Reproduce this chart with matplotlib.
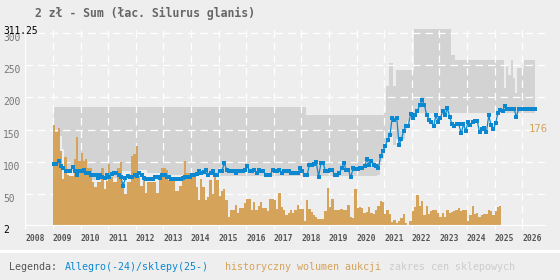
import matplotlib
matplotlib.use("Agg")
import matplotlib.pyplot as plt
from matplotlib.patches import Rectangle
from matplotlib.transforms import blended_transform_factory
import numpy as np

plt.rcParams["font.family"] = ["DejaVu Sans Mono", "DejaVu Sans"]

TITLE = "2 zł - Sum (łac. Silurus glanis)"
START_YEAR = 2009
YEARS = list(range(2008, 2027))
Y_TICKS = [2, 50, 100, 150, 200, 250, 300]
Y_MAX = 311.25
LAST_LABEL = "176"

# historyczny wolumen aukcji, monthly from 2009-01 (scaled to the price axis)
volume = [
    157, 147, 152, 117, 74, 108, 80, 78, 78, 104, 139, 101,
    114, 101, 105, 90, 91, 68, 61, 69, 69, 90, 58, 70,
    97, 77, 69, 69, 90, 100, 69, 50, 69, 69, 109, 112,
    124, 78, 63, 77, 52, 69, 69, 69, 69, 52, 80, 90,
    90, 88, 72, 72, 72, 54, 54, 63, 72, 101, 83, 83,
    83, 83, 61, 41, 74, 61, 41, 46, 72, 50, 76, 72,
    47, 54, 58, 40, 15, 26, 26, 33, 20, 29, 29, 36,
    43, 43, 26, 38, 25, 32, 37, 29, 29, 24, 43, 43,
    40, 27, 52, 30, 25, 17, 20, 25, 21, 26, 33, 27,
    27, 8, 40, 27, 22, 17, 15, 11, 11, 11, 24, 59,
    30, 42, 26, 25, 25, 27, 25, 26, 33, 14, 13, 58,
    29, 30, 29, 20, 22, 30, 20, 19, 25, 32, 39, 38,
    19, 26, 19, 6, 10, 5, 8, 13, 19, 5, 1, 8,
    24, 30, 48, 31, 39, 18, 31, 19, 24, 25, 26, 21,
    15, 20, 15, 25, 21, 22, 24, 25, 28, 24, 25, 25,
    8, 18, 32, 19, 20, 15, 18, 19, 19, 25, 23, 18,
    24, 30, 31,
]

# Allegro price, monthly from 2009-01
allegro = [
    96, 96, 101, 93, 90, 86, 86, 86, 92, 86, 80, 85,
    86, 88, 82, 83, 80, 80, 79, 75, 80, 77, 75, 80,
    77, 81, 82, 82, 80, 77, 62, 75, 78, 77, 76, 79,
    78, 82, 80, 75, 73, 74, 73, 74, 76, 76, 75, 80,
    80, 76, 76, 73, 73, 73, 73, 74, 75, 77, 77, 77,
    80, 80, 81, 85, 83, 84, 87, 80, 82, 85, 80, 80,
    86, 86, 98, 88, 85, 85, 86, 83, 86, 86, 85, 87,
    93, 86, 86, 87, 83, 87, 86, 86, 80, 80, 80, 87,
    85, 85, 87, 83, 85, 85, 85, 83, 83, 83, 83, 90,
    85, 80, 79, 95, 95, 97, 99, 77, 98, 98, 85, 85,
    87, 87, 80, 80, 82, 90, 98, 87, 87, 76, 90, 89,
    89, 90, 90, 93, 104, 95, 102, 95, 93, 90, 109, 117,
    125, 134, 141, 168, 165, 168, 126, 135, 148, 156, 156, 174,
    168, 173, 179, 188, 196, 188, 173, 165, 162, 155, 172, 162,
    168, 179, 173, 183, 170, 158, 156, 158, 158, 144, 158, 148,
    162, 157, 162, 163, 163, 146, 151, 152, 146, 172, 157, 151,
    160, 176, 180, 179, 187, 182, 182, 182, 182, 170, 182, 182,
    182, 182, 182, 182, 182, 182,
]

# zakres cen sklepowych (shop price range), monthly from 2009-01
shop_high = ([185] * 110 + [173] * 34 + [178, 217, 253, 253, 217] + [243] * 8
             + [306] * 16 + [266] * 2 + [258] * 21
             + [215, 250, 235, 258, 230, 206] + [245] * 3 + [258] * 5)
shop_low = ([140] * 4 + [120, 100] + [85] * 6 + [80] * 5 + [72] * 7 + [75] * 4
            + [85] * 8 + [88] * 5 + [82] * 7 + [79] * 23 + [78] * 70
            + [80, 95, 105, 118, 130, 145, 140, 126] + [136] * 4 + [150, 164]
            + [176] * 55)

BLUE = "#0b88d0"
ORANGE = "#d5a35a"
GREY = "#d3d3d3"
BG = "#eeeeee"

t_bar = START_YEAR + np.arange(len(volume)) / 12
t_line = START_YEAR + np.arange(len(allegro)) / 12 + 1 / 24

fig = plt.figure(figsize=(5.6, 2.8), dpi=100, facecolor=BG)
ax = fig.add_axes([25.4 / 560, 55 / 280, 519.6 / 560, 199.4 / 280])
ax.set_facecolor(BG)

ax.fill_between(t_line, shop_low, shop_high, step="mid", color=GREY, lw=0, zorder=0.3)
ax.bar(t_bar, volume, width=1 / 12, align="edge", color=ORANGE, lw=0, zorder=2)
ax.plot(t_line, allegro, color=BLUE, lw=0.9, marker="s", ms=2.4, mew=0, zorder=3)

ax.set_xlim(2008, 2026.83)
ax.set_ylim(2, Y_MAX)
ax.set_axisbelow(True)
ax.grid(color="white", linestyle=(0, (6, 4)), lw=0.9)

ax.set_xticks(YEARS)
ax.set_xticklabels([str(y) for y in YEARS], ha="left", fontsize=5.8,
                   fontweight="bold", color="#555555")
ax.tick_params(axis="x", length=3, color="white", width=0.8, pad=3.5)
ax.set_yticks(Y_TICKS)
ax.set_yticklabels([])
ax.tick_params(axis="y", length=0)

for s in ["top", "right"]:
    ax.spines[s].set_visible(False)
for s in ["left", "bottom"]:
    ax.spines[s].set_color("white")
    ax.spines[s].set_linewidth(0.8)

ytr = blended_transform_factory(fig.transFigure, ax.transData)
for v in Y_TICKS[1:]:
    ax.text(3 / 560, v, str(v), transform=ytr, ha="left", va="top",
            fontsize=6.9, color="#777777")
ax.text(3 / 560, Y_TICKS[0], str(Y_TICKS[0]), transform=ytr, ha="left", va="top",
        fontsize=6.9, color="black")
ax.text(3 / 560, Y_MAX, "311.25", transform=ytr, ha="left", va="top",
        fontsize=6.9, color="black")

fig.text(35 / 560, 1 - 13 / 280, TITLE, ha="left", va="center", fontsize=8.3,
         fontweight="bold", color="#666666")
fig.text(529 / 560, 1 - 129 / 280, LAST_LABEL, ha="left", va="center",
         fontsize=7.6, color=ORANGE)

fig.add_artist(Rectangle((0, 27 / 280), 1, 3 / 280, transform=fig.transFigure,
                         color="white", lw=0))
ly = 1 - 267 / 280
fig.text(9 / 560, ly, "Legenda:", ha="left", va="center", fontsize=7.2, color="#555555")
fig.text(65 / 560, ly, "Allegro(-24)/sklepy(25-)", ha="left", va="center",
         fontsize=7.2, color=BLUE)
fig.text(225 / 560, ly, "historyczny wolumen aukcji", ha="left", va="center",
         fontsize=7.2, color=ORANGE)
fig.text(389 / 560, ly, "zakres cen sklepowych", ha="left", va="center",
         fontsize=7.2, color="#cccccc")

fig.savefig("out.png", dpi=100, facecolor=BG)
